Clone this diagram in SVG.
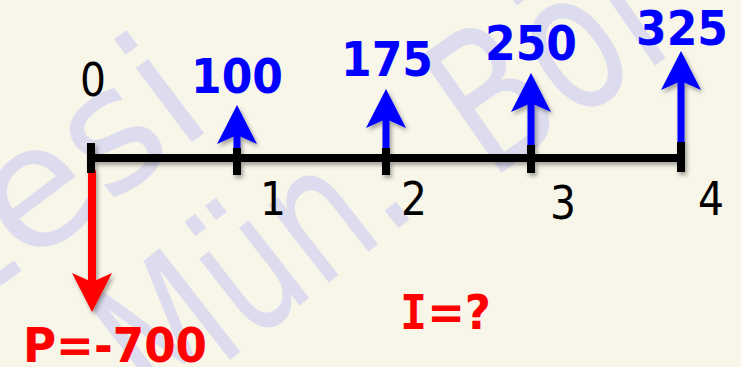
<svg xmlns="http://www.w3.org/2000/svg" width="741" height="367" viewBox="0 0 741 367">
<style>
.wm{font-family:"DejaVu Sans","Liberation Sans",sans-serif;fill:#dcdcee;}
.amt{font-family:"DejaVu Sans","Liberation Sans",sans-serif;font-weight:bold;font-size:48px;fill:#0000ff;text-anchor:middle;}
.per{font-family:"DejaVu Sans","Liberation Sans",sans-serif;font-size:46px;fill:#000;text-anchor:middle;}
.red{font-family:"DejaVu Sans","Liberation Sans",sans-serif;font-weight:bold;font-size:48px;fill:#ff0000;}
.axis{stroke:#000;stroke-width:8;fill:none;}
.up{stroke:#0000ff;stroke-width:7;}
.down{stroke:#ff0000;stroke-width:8;}
</style>
<defs>
<filter id="sh" x="-20%" y="-20%" width="140%" height="140%">
<feDropShadow dx="2" dy="3" stdDeviation="2" flood-color="#000" flood-opacity="0.35"/>
</filter>
<marker id="hb" markerUnits="userSpaceOnUse" viewBox="0 -20 39 40" markerWidth="39" markerHeight="40" refX="9" refY="0" orient="auto">
<path d="M0,-20 L39,0 L0,20 L9,0 Z" fill="#0000ff"/>
</marker>
<marker id="hr" markerUnits="userSpaceOnUse" viewBox="0 -20 39 40" markerWidth="39" markerHeight="40" refX="9" refY="0" orient="auto">
<path d="M0,-20 L39,0 L0,20 L9,0 Z" fill="#ff0000"/>
</marker>
</defs>
<rect width="741" height="367" fill="#f8f5e9"/>
<g id="watermark">
<text class="wm" font-size="170" transform="translate(25,268) rotate(-37)" x="-67">tesi</text>
<text class="wm" font-size="180" transform="translate(158,416) rotate(-38)" textLength="334" lengthAdjust="spacingAndGlyphs">Mün.</text>
<text class="wm" font-size="195" transform="translate(490,181) rotate(-35)" textLength="228" lengthAdjust="spacingAndGlyphs">Böl</text>
</g>
<g id="connectors" filter="url(#sh)">
<line class="up" x1="237" y1="152" x2="237" y2="135" marker-end="url(#hb)"/>
<line class="up" x1="386" y1="152" x2="386" y2="119" marker-end="url(#hb)"/>
<line class="up" x1="531" y1="152" x2="531" y2="103" marker-end="url(#hb)"/>
<line class="up" x1="681" y1="152" x2="681" y2="81" marker-end="url(#hb)"/>
<line class="down" x1="92" y1="170" x2="92" y2="282" marker-end="url(#hr)"/>
<path class="axis" d="M91,158 H681 M91,143 V173 M237,148 V175 M386,148 V175 M531,145 V173 M681,142 V172"/>
</g>
<g id="t0"><text class="per" x="93" y="96" textLength="26" lengthAdjust="spacingAndGlyphs">0</text></g>
<g id="t1"><text class="per" x="273" y="215" textLength="26" lengthAdjust="spacingAndGlyphs">1</text></g>
<g id="t2"><text class="per" x="414" y="215" textLength="26" lengthAdjust="spacingAndGlyphs">2</text></g>
<g id="t3"><text class="per" x="563" y="219" textLength="26" lengthAdjust="spacingAndGlyphs">3</text></g>
<g id="t4"><text class="per" x="711" y="215" textLength="26" lengthAdjust="spacingAndGlyphs">4</text></g>
<g id="a100"><text class="amt" x="237" y="93" textLength="92" lengthAdjust="spacingAndGlyphs">100</text></g>
<g id="a175"><text class="amt" x="387" y="76" textLength="92" lengthAdjust="spacingAndGlyphs">175</text></g>
<g id="a250"><text class="amt" x="531" y="60" textLength="92" lengthAdjust="spacingAndGlyphs">250</text></g>
<g id="a325"><text class="amt" x="682" y="45" textLength="92" lengthAdjust="spacingAndGlyphs">325</text></g>
<g id="p"><text class="red" x="23" y="362" textLength="184" lengthAdjust="spacingAndGlyphs">P=-700</text></g>
<g id="i"><text class="red" x="400" y="329" font-size="50" textLength="91" lengthAdjust="spacingAndGlyphs"><tspan font-family="DejaVu Sans Mono, monospace">I</tspan>=?</text></g>
</svg>
